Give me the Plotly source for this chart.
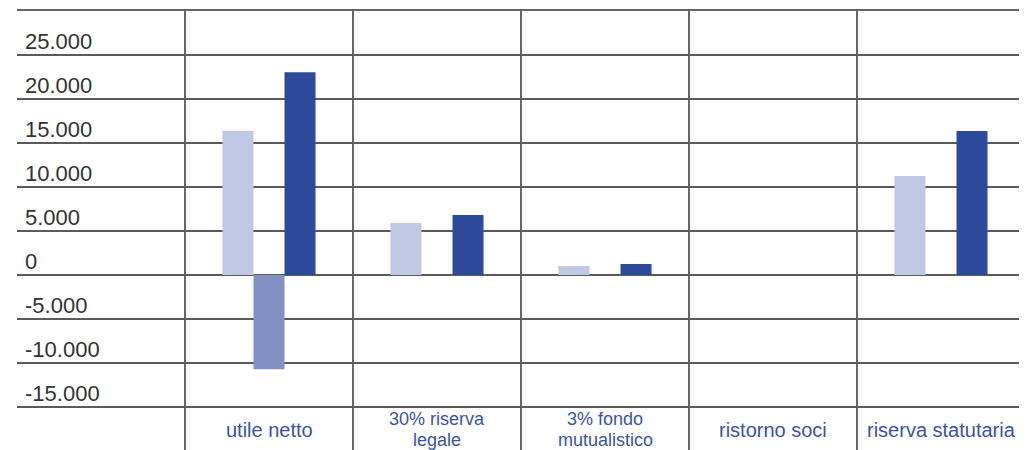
import plotly.graph_objects as go

# ---- data ----
categories = ["utile netto", "30% riserva legale", "3% fondo mutualistico",
              "ristorno soci", "riserva statutaria"]
label_lines = [["utile netto"], ["30% riserva", "legale"], ["3% fondo", "mutualistico"],
               ["ristorno soci"], ["riserva statutaria"]]
series_a = [16400, 5900, 1020, 0, 11250]
series_b = [-10700, 0, 0, 0, 0]
series_c = [23050, 6820, 1250, 0, 16350]
tick_vals = [25000, 20000, 15000, 10000, 5000, 0, -5000, -10000, -15000]
tick_text = ["25.000", "20.000", "15.000", "10.000", "5.000", "0",
             "-5.000", "-10.000", "-15.000"]

blank = " "  # first column holds the axis labels
x_order = [blank] + categories

colors = ["#C0C9E3", "#8191C3", "#2E4A9A"]
fig = go.Figure()
for vals, col, nm in zip([series_a, series_b, series_c], colors, ["A", "B", "C"]):
    fig.add_trace(go.Bar(x=categories, y=vals, marker_color=col,
                         marker_line_width=0, name=nm))

grid_col = "#5a5a5a"
# page body has an 8px margin -> compensate
fig.update_layout(
    width=1018, height=442,
    margin=dict(l=9, r=1, t=3, b=0),
    paper_bgcolor="white", plot_bgcolor="white",
    barmode="group", bargap=0.446, bargroupgap=0,
    showlegend=False,
    font=dict(family="Liberation Sans, Arial, sans-serif"),
)
fig.update_xaxes(
    type="category", categoryorder="array", categoryarray=x_order,
    range=[-0.5, 5.5], tickson="boundaries", showgrid=True,
    gridcolor="#666666", gridwidth=2, showticklabels=False, ticks="",
    showline=True, linecolor="#666666", linewidth=2, mirror=True,
)
fig.update_yaxes(
    range=[-19886, 30000], tickvals=tick_vals, showticklabels=False,
    showgrid=True, gridcolor=grid_col, gridwidth=2,
    zeroline=True, zerolinecolor=grid_col, zerolinewidth=2,
    showline=False,
)

# y tick labels inside the first column, above each line
for v, t in zip(tick_vals, tick_text):
    fig.add_annotation(x=0, xref="paper", y=v, yref="y", text=t,
                       showarrow=False, xanchor="left", yanchor="bottom",
                       xshift=6, yshift=-1,
                       font=dict(size=22, color="#333333"))

# category labels in the bottom row
row_center = -17600
for cat, lines in zip(categories, label_lines):
    n = len(lines)
    size = 20 if n == 1 else 18
    for i, ln in enumerate(lines):
        shift = (n - 1) * 10.5 - i * 21
        fig.add_annotation(x=cat, xref="x", y=row_center, yref="y", text=ln,
                           showarrow=False, xanchor="center", yanchor="middle",
                           yshift=shift,
                           font=dict(size=size, color="#3B53A6"))

fig.write_html("out.html")
